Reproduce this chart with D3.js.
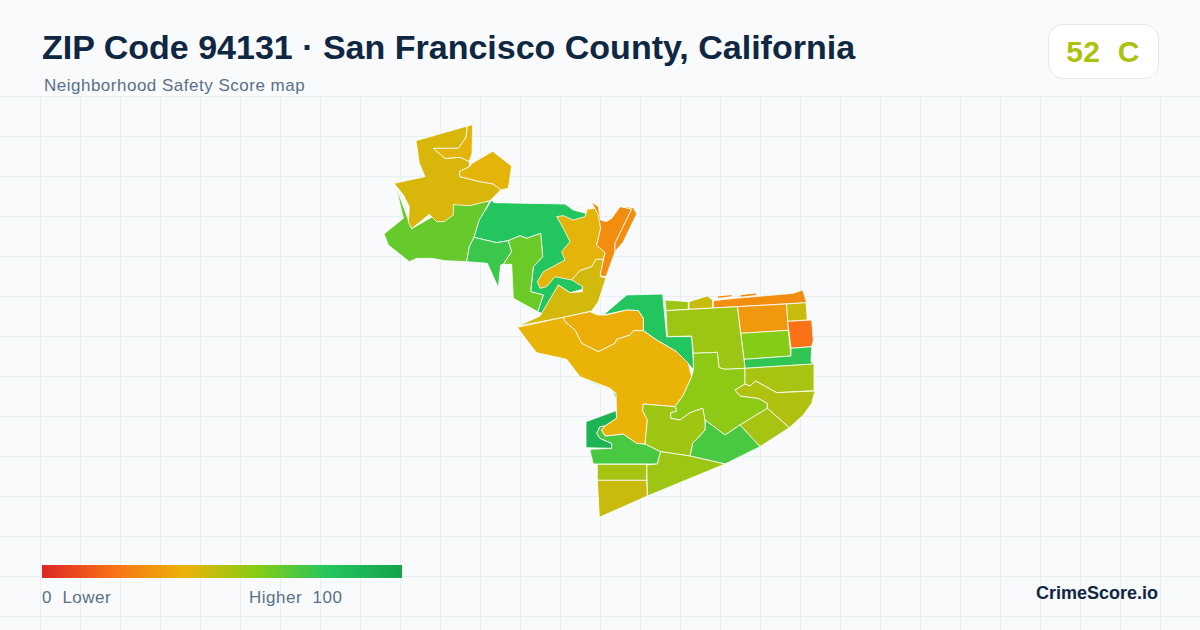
<!DOCTYPE html>
<html><head><meta charset="utf-8">
<script src="https://cdn.jsdelivr.net/npm/d3@7/dist/d3.min.js"></script>
<style>
html,body{margin:0;padding:0;background:#f8fafc}
svg{display:block}
text{font-family:"Liberation Sans",Arial,sans-serif;white-space:pre}
</style></head><body>
<svg id="chart" width="1200" height="630"></svg>
<script>
const titleText = "ZIP Code 94131 · San Francisco County, California";
const subtitleText = "Neighborhood Safety Score map";
const overallScore = 52;
const overallGrade = "C";
const legendLow = "0  Lower";
const legendHigh = "Higher  100";
const brandText = "CrimeScore.io";
const colorDomain = [0, 20, 40, 60, 80, 100];
const colorRange = ["#dc2626", "#f97316", "#eab308", "#84cc16", "#22c55e", "#16a34a"];

// Digitised neighbourhood boundaries, drawn back to front, on two map sheets (sheet grid units)
const northScores = [66, 80, 75, 65, 43.5, 41, 41, 41, 44.7, 28, 28, 28];
const northRings = [
 [[78,230],[125,356],[250,284],[360,272],[325,340],[312,382],[298,410],[290,455],[225,452],[185,445],[140,445],[118,455],[55,405],[42,372],[100,325]],
 [[365,270],[372,278],[585,282],[610,300],[648,310],[648,320],[637,538],[600,548],[565,525],[520,612],[503,605],[520,555],[482,545],[490,470],[518,440],[512,370],[470,385],[450,377],[415,392],[380,398],[312,382],[328,330]],
 [[312,382],[380,398],[415,392],[425,425],[400,463],[392,465],[385,533],[352,460],[290,455],[298,410]],
 [[415,392],[450,377],[470,385],[512,370],[518,440],[490,470],[482,545],[520,555],[503,605],[430,565],[425,463],[400,463],[425,425]],
 [[138,92],[292,48],[288,82],[265,115],[190,115],[225,145],[270,142],[298,155],[298,170],[268,185],[270,200],[330,215],[370,222],[392,240],[360,272],[300,287],[250,284],[250,315],[222,335],[200,335],[178,313],[125,356],[115,335],[118,290],[100,255],[72,220],[165,200],[148,160]],
 [[292,48],[308,44],[306,130],[298,155],[270,142],[225,145],[190,115],[265,115],[288,82]],
 [[368,124],[425,168],[415,235],[392,240],[370,222],[330,215],[270,200],[268,185],[298,170],[306,160]],
 [[560,320],[580,317],[610,330],[645,320],[648,310],[652,297],[675,295],[685,315],[692,355],[680,405],[705,428],[700,448],[678,448],[665,470],[630,482],[605,510],[555,500],[530,530],[510,535],[502,515],[520,485],[585,450],[575,425],[600,395],[580,355]],
 [[565,525],[600,548],[637,545],[638,530],[605,510],[630,482],[665,470],[678,448],[700,448],[692,500],[708,503],[685,575],[665,603],[580,622],[445,648],[510,618]],
 [[664,275],[685,290],[692,330],[708,335],[725,325],[750,290],[785,297],[735,400],[735,425],[708,500],[690,497],[705,428],[680,405],[692,355],[685,315]],
 [[750,288],[790,293],[800,312],[760,395],[735,425],[735,400],[785,297]],
 [[620,293],[633,292],[634,295],[620,296]]
];
const southScores = [80, 80, 90, 72, 38.5, 40, 55.3, 46.7, 28, 28, 28, 32, 60, 46.7, 20, 77, 55.3, 58, 53, 51.4, 53.3, 72, 55, 55.3, 53, 46.7];
const southRings = [
 [[280,105],[350,45],[458,42],[470,170],[545,170],[552,270],[500,215],[440,180],[400,152],[400,115],[385,92],[350,90]],
 [[170,238],[185,245],[205,285],[235,298],[255,308],[310,335],[318,360],[320,395],[318,340],[210,290]],
 [[228,425],[318,392],[320,415],[285,438],[270,440],[260,460],[270,475],[305,490],[305,505],[228,503]],
 [[240,508],[305,505],[305,490],[270,475],[260,460],[270,440],[285,438],[275,450],[285,468],[340,462],[380,490],[405,492],[452,515],[442,552],[250,552],[243,525]],
 [[160,112],[240,95],[262,105],[290,105],[350,90],[385,92],[400,115],[400,152],[370,152],[360,165],[320,178],[315,190],[265,215],[215,190],[195,150],[165,125]],
 [[22,142],[160,112],[165,125],[195,150],[215,190],[265,215],[315,190],[320,178],[360,165],[370,152],[400,152],[440,180],[500,215],[535,250],[545,290],[520,345],[495,380],[400,372],[398,392],[412,420],[405,492],[380,490],[340,462],[285,468],[275,450],[285,438],[320,415],[318,340],[300,325],[210,290],[170,238],[80,218],[50,180]],
 [[465,60],[535,65],[535,88],[468,92]],
 [[537,65],[592,48],[608,60],[608,84],[537,88]],
 [[610,62],[675,55],[850,40],[878,30],[890,68],[610,84]],
 [[622,48],[665,44],[667,50],[624,55]],
 [[690,44],[738,39],[740,46],[692,52]],
 [[682,80],[830,72],[835,151],[692,160]],
 [[692,160],[835,151],[843,228],[702,238]],
 [[830,72],[888,68],[892,120],[833,124]],
 [[833,124],[905,120],[910,180],[905,200],[843,205]],
 [[702,238],[843,228],[843,205],[905,200],[903,245],[912,252],[705,265]],
 [[468,92],[682,80],[692,160],[702,238],[705,265],[645,268],[627,263],[622,217],[550,220],[545,168],[472,170]],
 [[550,220],[622,217],[627,263],[645,268],[705,265],[705,312],[675,330],[690,348],[745,355],[772,370],[772,385],[690,435],[645,465],[585,420],[578,385],[540,398],[510,420],[482,415],[482,398],[500,393],[495,380],[520,345],[545,290],[550,270]],
 [[705,265],[912,252],[912,332],[800,338],[737,303],[720,318],[705,312]],
 [[675,330],[705,312],[720,318],[737,303],[800,338],[915,333],[905,370],[880,405],[838,443],[772,385],[772,370],[745,355],[690,348]],
 [[690,435],[772,385],[838,443],[750,500]],
 [[585,420],[645,465],[690,435],[750,500],[645,552],[540,528],[548,490],[585,450]],
 [[400,372],[495,380],[500,393],[482,398],[482,415],[510,420],[540,398],[578,385],[585,420],[585,450],[548,490],[540,528],[452,515],[405,492],[412,420],[398,392]],
 [[452,515],[540,528],[645,552],[412,648],[410,555],[442,552]],
 [[262,553],[410,553],[410,601],[262,601]],
 [[262,601],[410,601],[412,648],[268,712]]
];

const W = 1200, H = 630;
const svg = d3.select("#chart");
const color = d3.scaleLinear().domain(colorDomain).range(colorRange).interpolate(d3.interpolateRgb);

// background and grid
svg.append("rect").attr("width", W).attr("height", H).attr("fill", "#f8fafc");
const grid = svg.append("g").attr("stroke", "#e8eff3").attr("stroke-width", 1);
grid.selectAll("line.v").data(d3.range(40, W, 40)).join("line").attr("class", "v")
  .attr("x1", d => d + 0.5).attr("x2", d => d + 0.5).attr("y1", 96).attr("y2", H);
grid.selectAll("line.h").data(d3.range(96, H, 40)).join("line").attr("class", "h")
  .attr("x1", 0).attr("x2", W).attr("y1", d => d + 0.5).attr("y2", d => d + 0.5);

// map
const sheets = [
  {rings: northRings, scores: northScores,
   x: d3.scaleLinear().domain([0, 840]).range([370, 650]), y: d3.scaleLinear().domain([0, 660]).range([110, 330])},
  {rings: southRings, scores: southScores,
   x: d3.scaleLinear().domain([0, 960]).range([510, 830]), y: d3.scaleLinear().domain([0, 750]).range([280, 530])}
];
const mapG = svg.append("g");
sheets.forEach(s => {
  const line = d3.line().x(p => s.x(p[0])).y(p => s.y(p[1])).curve(d3.curveLinearClosed);
  mapG.append("g").selectAll("path").data(s.rings).join("path")
    .attr("d", line)
    .attr("fill", (d, i) => color(s.scores[i]))
    .attr("stroke", "#ffffff").attr("stroke-width", 0.8).attr("stroke-linejoin", "round");
});

// header
svg.append("text").attr("x", 42).attr("y", 59).attr("font-size", 34).attr("font-weight", 700)
  .attr("fill", "#0f2742").text(titleText);
svg.append("text").attr("x", 44).attr("y", 91).attr("font-size", 17).attr("letter-spacing", 0.5)
  .attr("fill", "#5a7088").text(subtitleText);

// badge
svg.append("rect").attr("x", 1048.5).attr("y", 24.5).attr("width", 110).attr("height", 54).attr("rx", 14)
  .attr("fill", "#ffffff").attr("stroke", "#e2e8f0");
svg.append("text").attr("x", 1103).attr("y", 62).attr("text-anchor", "middle").attr("letter-spacing", 0.4)
  .attr("font-size", 30).attr("font-weight", 700).attr("fill", color(overallScore))
  .text(`${overallScore}  ${overallGrade}`);

// legend
const legendX = d3.scaleLinear().domain([0, 100]).range([42, 402]);
const defs = svg.append("defs");
const grad = defs.append("linearGradient").attr("id", "legendGrad");
grad.selectAll("stop").data(colorDomain).join("stop")
  .attr("offset", d => (d / 100)).attr("stop-color", d => color(d));
svg.append("rect").attr("x", legendX(0)).attr("y", 565).attr("width", legendX(100) - legendX(0)).attr("height", 13)
  .attr("fill", "url(#legendGrad)");
svg.append("text").attr("x", 42).attr("y", 603).attr("font-size", 17).attr("letter-spacing", 0.5).attr("fill", "#5a7088").text(legendLow);
svg.append("text").attr("x", 249).attr("y", 603).attr("font-size", 17).attr("letter-spacing", 0.5).attr("fill", "#5a7088").text(legendHigh);

// brand
svg.append("text").attr("x", 1158).attr("y", 599).attr("text-anchor", "end").attr("font-size", 18)
  .attr("font-weight", 700).attr("fill", "#0f2742").text(brandText);
</script>
</body></html>
